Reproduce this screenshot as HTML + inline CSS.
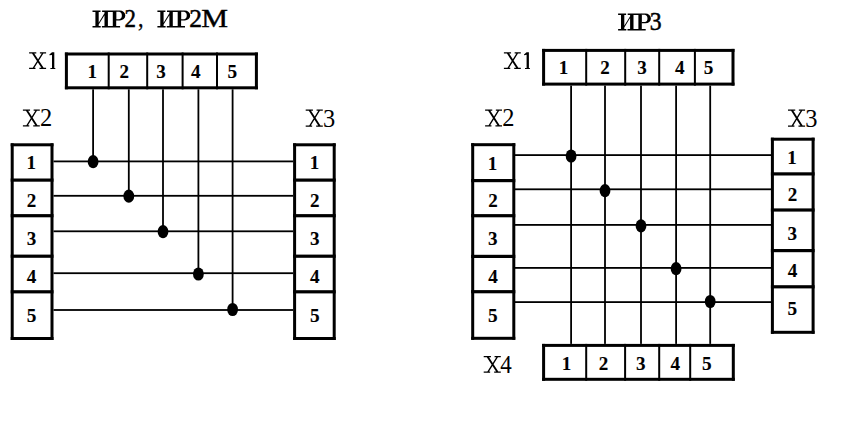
<!DOCTYPE html>
<html><head><meta charset="utf-8"><style>
html,body{margin:0;padding:0;background:#fff;width:853px;height:430px;overflow:hidden}
svg{display:block}
text{font-family:"Liberation Serif",serif;fill:#000}
</style></head><body>
<svg width="853" height="430" viewBox="0 0 853 430">
<path d="M92.50 10.60H100.50V11.98H92.50ZM92.50 26.02H100.70V27.40H92.50ZM102.10 10.60H110.50V11.98H102.10ZM101.90 26.02H110.50V27.40H101.90ZM95.40 10.60H98.70V27.40H95.40ZM104.50 10.60H107.90V27.40H104.50ZM98.70 22.66L104.50 13.37V15.15L98.70 24.44ZM110.10 10.60H116.20V11.98H110.10ZM109.70 26.02H120.10V27.40H109.70ZM112.80 10.60H116.20V27.40H112.80Z" fill="#000"/>
<path fill-rule="evenodd" d="M115.90 10.60H119.80A5.50 4.89 0 0 1 119.80 20.38H115.90ZM116.20 11.84H119.20A3.20 3.71 0 0 1 119.20 19.15H116.20Z" fill="#000"/>
<text transform="translate(124.39,27.40) scale(0.904,1)" font-size="25.37" font-weight="normal" stroke="#000" stroke-width="0.5">2</text>
<text transform="translate(138.06,27.40) scale(0.886,1)" font-size="25.00" stroke="#000" stroke-width="0.3">,</text>
<path d="M157.40 10.60H165.40V11.98H157.40ZM157.40 26.02H165.60V27.40H157.40ZM167.00 10.60H175.40V11.98H167.00ZM166.80 26.02H175.40V27.40H166.80ZM160.30 10.60H163.60V27.40H160.30ZM169.40 10.60H172.80V27.40H169.40ZM163.60 22.66L169.40 13.37V15.15L163.60 24.44ZM175.00 10.60H181.10V11.98H175.00ZM174.60 26.02H185.00V27.40H174.60ZM177.70 10.60H181.10V27.40H177.70Z" fill="#000"/>
<path fill-rule="evenodd" d="M180.80 10.60H184.70A5.50 4.89 0 0 1 184.70 20.38H180.80ZM181.10 11.84H184.10A3.20 3.71 0 0 1 184.10 19.15H181.10Z" fill="#000"/>
<text transform="translate(189.18,27.40) scale(1.003,1)" font-size="25.37" font-weight="normal" stroke="#000" stroke-width="0.5">2</text>
<text transform="translate(201.13,27.40) scale(1.172,1)" font-size="25.66" font-weight="normal" stroke="#000" stroke-width="0.4">M</text>
<path d="M29.10 52.30H36.30V53.54H29.10ZM39.90 52.30H46.10V53.54H39.90ZM29.10 67.86H35.50V69.10H29.10ZM39.50 67.86H46.10V69.10H39.50ZM31.70 52.89L33.90 52.89L44.10 68.51L41.90 68.51ZM42.10 52.89L43.70 52.89L33.90 68.51L32.30 68.51Z" fill="#000"/>
<path d="M52.00 52.30H54.30V67.90H55.30V69.10H50.40V67.90H52.00V54.90L49.40 55.30V54.50Z" fill="#000"/>
<path d="M22.90 109.50H30.06V110.74H22.90ZM33.64 109.50H39.80V110.74H33.64ZM22.90 125.16H29.26V126.40H22.90ZM33.24 125.16H39.80V126.40H33.24ZM25.48 110.10L27.67 110.10L37.81 125.80L35.62 125.80ZM35.82 110.10L37.41 110.10L27.67 125.80L26.08 125.80Z" fill="#000"/>
<text transform="translate(40.03,126.40) scale(0.958,1)" font-size="25.52" font-weight="normal">2</text>
<path d="M305.70 109.50H312.94V110.76H305.70ZM316.56 109.50H322.80V110.76H316.56ZM305.70 125.44H312.14V126.70H305.70ZM316.16 125.44H322.80V126.70H316.16ZM308.32 110.11L310.53 110.11L320.79 126.09L318.58 126.09ZM318.78 110.11L320.39 110.11L310.53 126.09L308.92 126.09Z" fill="#000"/>
<text transform="translate(322.93,126.70) scale(0.941,1)" font-size="25.98" font-weight="normal">3</text>
<rect x="64.90" y="52.50" width="193.00" height="3.00" fill="#000"/>
<rect x="64.90" y="86.30" width="193.00" height="3.00" fill="#000"/>
<rect x="64.90" y="52.50" width="3.00" height="36.80" fill="#000"/>
<rect x="254.90" y="52.50" width="3.00" height="36.80" fill="#000"/>
<rect x="107.70" y="52.50" width="2.00" height="36.80" fill="#000"/>
<rect x="146.20" y="52.50" width="2.00" height="36.80" fill="#000"/>
<rect x="181.60" y="52.50" width="2.00" height="36.80" fill="#000"/>
<rect x="216.00" y="52.50" width="2.00" height="36.80" fill="#000"/>
<text transform="translate(87.45,78.45) scale(1.060,1)" font-size="18.03" font-weight="bold" stroke="#000" stroke-width="0.1">1</text>
<text transform="translate(119.55,78.45) scale(1.060,1)" font-size="17.97" font-weight="bold" stroke="#000" stroke-width="0.1">2</text>
<text transform="translate(156.30,78.45) scale(1.060,1)" font-size="17.97" font-weight="bold" stroke="#000" stroke-width="0.1">3</text>
<text transform="translate(191.06,78.45) scale(1.060,1)" font-size="18.08" font-weight="bold" stroke="#000" stroke-width="0.1">4</text>
<text transform="translate(227.55,78.45) scale(1.060,1)" font-size="18.17" font-weight="bold" stroke="#000" stroke-width="0.1">5</text>
<rect x="92.20" y="89.30" width="1.80" height="72.40" fill="#000"/>
<rect x="53.50" y="160.50" width="239.60" height="1.80" fill="#000"/>
<ellipse cx="93.1" cy="161.7" rx="5.4" ry="6.6" fill="#000"/>
<rect x="127.90" y="89.30" width="1.80" height="106.90" fill="#000"/>
<rect x="53.50" y="194.90" width="239.60" height="1.80" fill="#000"/>
<ellipse cx="128.8" cy="196.2" rx="5.4" ry="6.6" fill="#000"/>
<rect x="162.10" y="89.30" width="1.80" height="142.30" fill="#000"/>
<rect x="53.50" y="230.40" width="239.60" height="1.80" fill="#000"/>
<ellipse cx="163" cy="231.6" rx="5.4" ry="6.6" fill="#000"/>
<rect x="197.50" y="89.30" width="1.80" height="184.70" fill="#000"/>
<rect x="53.50" y="272.30" width="239.60" height="1.80" fill="#000"/>
<ellipse cx="198.4" cy="274.0" rx="5.4" ry="6.6" fill="#000"/>
<rect x="231.70" y="89.30" width="1.80" height="220.20" fill="#000"/>
<rect x="53.50" y="309.10" width="239.60" height="1.80" fill="#000"/>
<ellipse cx="232.6" cy="309.5" rx="5.4" ry="6.6" fill="#000"/>
<rect x="10.70" y="143.30" width="42.80" height="3.00" fill="#000"/>
<rect x="10.70" y="337.00" width="42.80" height="3.00" fill="#000"/>
<rect x="10.70" y="143.30" width="3.00" height="196.70" fill="#000"/>
<rect x="50.50" y="143.30" width="3.00" height="196.70" fill="#000"/>
<rect x="10.70" y="178.50" width="42.80" height="3.20" fill="#000"/>
<rect x="10.70" y="214.10" width="42.80" height="3.20" fill="#000"/>
<rect x="10.70" y="254.60" width="42.80" height="3.20" fill="#000"/>
<rect x="10.70" y="290.20" width="42.80" height="3.20" fill="#000"/>
<text transform="translate(26.55,168.85) scale(1.060,1)" font-size="18.03" font-weight="bold" stroke="#000" stroke-width="0.1">1</text>
<text transform="translate(26.85,207.45) scale(1.060,1)" font-size="17.97" font-weight="bold" stroke="#000" stroke-width="0.1">2</text>
<text transform="translate(26.80,245.45) scale(1.060,1)" font-size="17.97" font-weight="bold" stroke="#000" stroke-width="0.1">3</text>
<text transform="translate(26.86,283.25) scale(1.060,1)" font-size="18.08" font-weight="bold" stroke="#000" stroke-width="0.1">4</text>
<text transform="translate(26.75,321.55) scale(1.060,1)" font-size="18.17" font-weight="bold" stroke="#000" stroke-width="0.1">5</text>
<rect x="293.10" y="143.30" width="42.60" height="3.00" fill="#000"/>
<rect x="293.10" y="337.00" width="42.60" height="3.00" fill="#000"/>
<rect x="293.10" y="143.30" width="3.00" height="196.70" fill="#000"/>
<rect x="332.70" y="143.30" width="3.00" height="196.70" fill="#000"/>
<rect x="293.10" y="178.50" width="42.60" height="3.20" fill="#000"/>
<rect x="293.10" y="214.10" width="42.60" height="3.20" fill="#000"/>
<rect x="293.10" y="254.60" width="42.60" height="3.20" fill="#000"/>
<rect x="293.10" y="290.20" width="42.60" height="3.20" fill="#000"/>
<text transform="translate(309.75,168.85) scale(1.060,1)" font-size="18.03" font-weight="bold" stroke="#000" stroke-width="0.1">1</text>
<text transform="translate(310.05,207.45) scale(1.060,1)" font-size="17.97" font-weight="bold" stroke="#000" stroke-width="0.1">2</text>
<text transform="translate(310.00,245.45) scale(1.060,1)" font-size="17.97" font-weight="bold" stroke="#000" stroke-width="0.1">3</text>
<text transform="translate(310.06,283.25) scale(1.060,1)" font-size="18.08" font-weight="bold" stroke="#000" stroke-width="0.1">4</text>
<text transform="translate(309.95,321.55) scale(1.060,1)" font-size="18.17" font-weight="bold" stroke="#000" stroke-width="0.1">5</text>
<path d="M618.10 13.50H626.10V14.89H618.10ZM618.10 29.01H626.30V30.40H618.10ZM627.70 13.50H636.10V14.89H627.70ZM627.50 29.01H636.10V30.40H627.50ZM621.00 13.50H624.30V30.40H621.00ZM630.10 13.50H633.50V30.40H630.10ZM624.30 25.63L630.10 16.28V18.07L624.30 27.42ZM635.70 13.50H641.80V14.89H635.70ZM635.30 29.01H645.70V30.40H635.30ZM638.40 13.50H641.80V30.40H638.40Z" fill="#000"/>
<path fill-rule="evenodd" d="M641.50 13.50H645.40A5.50 4.92 0 0 1 645.40 23.34H641.50ZM641.80 14.74H644.80A3.20 3.73 0 0 1 644.80 22.10H641.80Z" fill="#000"/>
<text transform="translate(649.86,30.40) scale(0.929,1)" font-size="25.52" font-weight="normal" stroke="#000" stroke-width="0.5">3</text>
<path d="M503.90 52.20H511.06V53.44H503.90ZM514.64 52.20H520.80V53.44H514.64ZM503.90 67.86H510.26V69.10H503.90ZM514.24 67.86H520.80V69.10H514.24ZM506.48 52.80L508.67 52.80L518.81 68.50L516.62 68.50ZM516.82 52.80L518.41 52.80L508.67 68.50L507.08 68.50Z" fill="#000"/>
<path d="M526.60 52.20H528.90V67.90H529.90V69.10H525.00V67.90H526.60V54.80L524.00 55.20V54.40Z" fill="#000"/>
<path d="M485.10 109.50H492.26V110.74H485.10ZM495.84 109.50H502.00V110.74H495.84ZM485.10 125.16H491.46V126.40H485.10ZM495.44 125.16H502.00V126.40H495.44ZM487.68 110.10L489.87 110.10L500.01 125.80L497.82 125.80ZM498.02 110.10L499.61 110.10L489.87 125.80L488.28 125.80Z" fill="#000"/>
<text transform="translate(502.23,126.40) scale(0.958,1)" font-size="25.52" font-weight="normal">2</text>
<path d="M788.00 109.50H795.24V110.77H788.00ZM798.86 109.50H805.10V110.77H798.86ZM788.00 125.53H794.44V126.80H788.00ZM798.46 125.53H805.10V126.80H798.46ZM790.62 110.11L792.83 110.11L803.09 126.19L800.88 126.19ZM801.08 110.11L802.69 110.11L792.83 126.19L791.22 126.19Z" fill="#000"/>
<text transform="translate(805.23,126.80) scale(0.936,1)" font-size="26.13" font-weight="normal">3</text>
<path d="M483.70 356.00H490.94V357.24H483.70ZM494.56 356.00H500.80V357.24H494.56ZM483.70 371.56H490.14V372.80H483.70ZM494.16 371.56H500.80V372.80H494.16ZM486.32 356.59L488.53 356.59L498.79 372.21L496.58 372.21ZM496.78 356.59L498.39 356.59L488.53 372.21L486.92 372.21Z" fill="#000"/>
<text transform="translate(500.35,372.80) scale(0.902,1)" font-size="25.52" font-weight="normal">4</text>
<rect x="542.10" y="48.90" width="192.40" height="3.00" fill="#000"/>
<rect x="542.10" y="82.60" width="192.40" height="3.00" fill="#000"/>
<rect x="542.10" y="48.90" width="3.00" height="36.70" fill="#000"/>
<rect x="731.50" y="48.90" width="3.00" height="36.70" fill="#000"/>
<rect x="542.10" y="343.90" width="192.70" height="3.00" fill="#000"/>
<rect x="542.10" y="377.80" width="192.70" height="3.00" fill="#000"/>
<rect x="542.10" y="343.90" width="3.00" height="36.90" fill="#000"/>
<rect x="731.80" y="343.90" width="3.00" height="36.90" fill="#000"/>
<rect x="585.20" y="48.90" width="2.00" height="36.70" fill="#000"/>
<rect x="624.20" y="48.90" width="2.00" height="36.70" fill="#000"/>
<rect x="658.20" y="48.90" width="2.00" height="36.70" fill="#000"/>
<rect x="693.90" y="48.90" width="2.00" height="36.70" fill="#000"/>
<rect x="585.20" y="343.90" width="2.00" height="36.90" fill="#000"/>
<rect x="624.10" y="343.90" width="2.00" height="36.90" fill="#000"/>
<rect x="658.20" y="343.90" width="2.00" height="36.90" fill="#000"/>
<rect x="689.20" y="343.90" width="2.00" height="36.90" fill="#000"/>
<text transform="translate(558.85,73.75) scale(1.060,1)" font-size="18.03" font-weight="bold" stroke="#000" stroke-width="0.1">1</text>
<text transform="translate(600.25,73.75) scale(1.060,1)" font-size="17.97" font-weight="bold" stroke="#000" stroke-width="0.1">2</text>
<text transform="translate(637.20,73.75) scale(1.060,1)" font-size="17.97" font-weight="bold" stroke="#000" stroke-width="0.1">3</text>
<text transform="translate(674.96,73.75) scale(1.060,1)" font-size="18.08" font-weight="bold" stroke="#000" stroke-width="0.1">4</text>
<text transform="translate(703.85,73.75) scale(1.060,1)" font-size="18.17" font-weight="bold" stroke="#000" stroke-width="0.1">5</text>
<text transform="translate(561.85,369.55) scale(1.060,1)" font-size="18.03" font-weight="bold" stroke="#000" stroke-width="0.1">1</text>
<text transform="translate(598.75,369.55) scale(1.060,1)" font-size="17.97" font-weight="bold" stroke="#000" stroke-width="0.1">2</text>
<text transform="translate(635.90,369.55) scale(1.060,1)" font-size="17.97" font-weight="bold" stroke="#000" stroke-width="0.1">3</text>
<text transform="translate(670.56,369.55) scale(1.060,1)" font-size="18.08" font-weight="bold" stroke="#000" stroke-width="0.1">4</text>
<text transform="translate(702.05,369.55) scale(1.060,1)" font-size="18.17" font-weight="bold" stroke="#000" stroke-width="0.1">5</text>
<rect x="570.20" y="85.60" width="1.80" height="258.30" fill="#000"/>
<rect x="604.10" y="85.60" width="1.80" height="258.30" fill="#000"/>
<rect x="640.10" y="85.60" width="1.80" height="258.30" fill="#000"/>
<rect x="675.20" y="85.60" width="1.80" height="258.30" fill="#000"/>
<rect x="709.30" y="85.60" width="1.80" height="258.30" fill="#000"/>
<rect x="515.00" y="154.20" width="256.00" height="1.80" fill="#000"/>
<ellipse cx="571.1" cy="156.0" rx="5.4" ry="6.6" fill="#000"/>
<rect x="515.00" y="188.40" width="256.00" height="1.80" fill="#000"/>
<ellipse cx="605.0" cy="190.7" rx="5.4" ry="6.6" fill="#000"/>
<rect x="515.00" y="224.00" width="256.00" height="1.80" fill="#000"/>
<ellipse cx="641.0" cy="225.8" rx="5.4" ry="6.6" fill="#000"/>
<rect x="515.00" y="267.00" width="256.00" height="1.80" fill="#000"/>
<ellipse cx="676.1" cy="268.7" rx="5.4" ry="6.6" fill="#000"/>
<rect x="515.00" y="301.20" width="256.00" height="1.80" fill="#000"/>
<ellipse cx="710.2" cy="301.5" rx="5.4" ry="6.6" fill="#000"/>
<rect x="471.20" y="143.20" width="44.10" height="3.00" fill="#000"/>
<rect x="471.20" y="336.80" width="44.10" height="3.00" fill="#000"/>
<rect x="471.20" y="143.20" width="3.00" height="196.60" fill="#000"/>
<rect x="512.30" y="143.20" width="3.00" height="196.60" fill="#000"/>
<rect x="471.20" y="179.00" width="44.10" height="3.20" fill="#000"/>
<rect x="471.20" y="214.10" width="44.10" height="3.20" fill="#000"/>
<rect x="471.20" y="254.80" width="44.10" height="3.20" fill="#000"/>
<rect x="471.20" y="290.10" width="44.10" height="3.20" fill="#000"/>
<text transform="translate(487.85,170.45) scale(1.060,1)" font-size="18.03" font-weight="bold" stroke="#000" stroke-width="0.1">1</text>
<text transform="translate(488.15,207.05) scale(1.060,1)" font-size="17.97" font-weight="bold" stroke="#000" stroke-width="0.1">2</text>
<text transform="translate(488.10,244.95) scale(1.060,1)" font-size="17.97" font-weight="bold" stroke="#000" stroke-width="0.1">3</text>
<text transform="translate(488.16,282.95) scale(1.060,1)" font-size="18.08" font-weight="bold" stroke="#000" stroke-width="0.1">4</text>
<text transform="translate(488.05,321.75) scale(1.060,1)" font-size="18.17" font-weight="bold" stroke="#000" stroke-width="0.1">5</text>
<rect x="770.90" y="137.70" width="43.70" height="3.00" fill="#000"/>
<rect x="770.90" y="330.80" width="43.70" height="3.00" fill="#000"/>
<rect x="770.90" y="137.70" width="3.00" height="196.10" fill="#000"/>
<rect x="811.60" y="137.70" width="3.00" height="196.10" fill="#000"/>
<rect x="770.90" y="172.30" width="43.70" height="3.20" fill="#000"/>
<rect x="770.90" y="208.40" width="43.70" height="3.20" fill="#000"/>
<rect x="770.90" y="249.00" width="43.70" height="3.20" fill="#000"/>
<rect x="770.90" y="285.20" width="43.70" height="3.20" fill="#000"/>
<text transform="translate(787.35,164.05) scale(1.060,1)" font-size="18.03" font-weight="bold" stroke="#000" stroke-width="0.1">1</text>
<text transform="translate(787.65,201.35) scale(1.060,1)" font-size="17.97" font-weight="bold" stroke="#000" stroke-width="0.1">2</text>
<text transform="translate(787.60,239.65) scale(1.060,1)" font-size="17.97" font-weight="bold" stroke="#000" stroke-width="0.1">3</text>
<text transform="translate(787.66,277.05) scale(1.060,1)" font-size="18.08" font-weight="bold" stroke="#000" stroke-width="0.1">4</text>
<text transform="translate(787.55,314.95) scale(1.060,1)" font-size="18.17" font-weight="bold" stroke="#000" stroke-width="0.1">5</text>
</svg>
</body></html>
